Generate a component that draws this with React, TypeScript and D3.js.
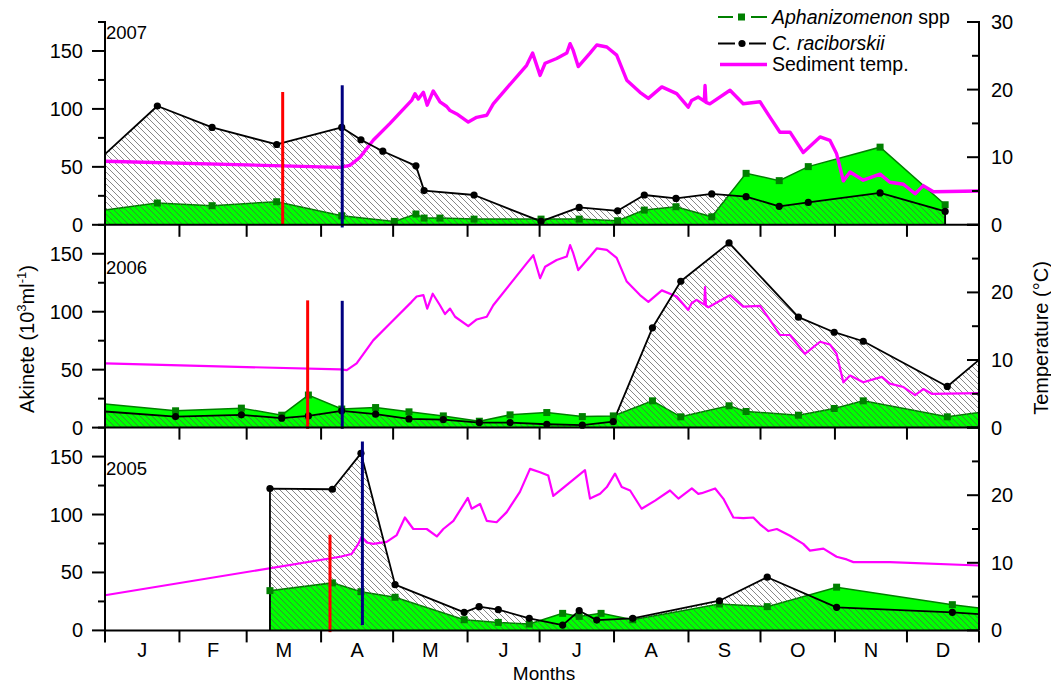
import React from 'react';
import * as d3 from 'd3';

// ---------- DATA ----------
const years = ['2007', '2006', '2005'];
const monthLabels = ['J', 'F', 'M', 'A', 'M', 'J', 'J', 'A', 'S', 'O', 'N', 'D'];
const monthBounds = [0, 31, 59, 90, 120, 151, 181, 212, 243, 273, 304, 334, 364];
const leftTicks = [0, 50, 100, 150];
const leftMinor = [25, 75, 125, 175];
const rightTicks = [0, 10, 20, 30];
const rightMinor = [5, 15, 25];

// [day of year, akinetes 10^3/ml]
const crac2007 = [[0, 61], [21.8, 102.5], [44.6, 84], [71.5, 69.3], [98.6, 84], [106.6, 73.4], [115.7, 63.5], [129.5, 50.9], [132.9, 29.5], [153.7, 25.7], [181.6, 2.9], [197.5, 15], [213.5, 12.1], [224.6, 25.7], [237.8, 22.8], [252.7, 26.6], [267, 24.3], [280.8, 15.9], [292.9, 19.3], [322.8, 27.5], [349.9, 11.5], [349.9, 0]];
const aph2007 = [[0, 12.7], [21.8, 18.8], [44.6, 16.5], [71.5, 19.9], [98.6, 7.8], [120.5, 2.9], [129.5, 9.3], [132.9, 5.8], [139.5, 5.8], [153.7, 4.9], [181.6, 4.9], [197.5, 4.9], [213.5, 3.5], [224.6, 12.7], [237.8, 15.6], [252.7, 6.9], [267, 44.4], [280.8, 38.1], [292.9, 50.2], [322.8, 67], [349.9, 17.3], [349.9, 0]];

const crac2006 = [[0, 13.9], [29.4, 9.5], [56.8, 11], [73.6, 8.1], [84.7, 10.1], [98.6, 14.5], [112.7, 11.6], [126.6, 7.5], [140.9, 6.9], [155.9, 4.3], [168.7, 4.3], [184, 2.9], [198.8, 2.1], [211.7, 5.2], [228, 86.1], [239.8, 126.3], [259.9, 159.4], [288.8, 95.3], [303.7, 82.3], [315.8, 74.5], [350.8, 35.5], [364, 58.4]];
const aph2006 = [[0, 20.3], [29.4, 14.5], [56.8, 16.8], [73.6, 10.7], [84.7, 28.1], [98.6, 16], [112.7, 17.3], [126.6, 13.6], [140.9, 10.1], [155.9, 5.5], [168.7, 11], [184, 13], [198.8, 9.5], [211.7, 10.1], [228, 23.1], [239.8, 9.3], [259.9, 18.8], [267, 13.9], [288.8, 10.7], [303.7, 16.5], [315.8, 23.1], [350.8, 9.3], [364, 13]];

const crac2005 = [[68.7, 0], [68.7, 122.4], [94.7, 121.8], [106.6, 152.8], [120.8, 39.5], [149.6, 15.6], [155.8, 20.5], [163.8, 17.9], [176.7, 10.4], [190.6, 4.6], [197.5, 17], [204.8, 8.9], [219.8, 10.4], [255.9, 25.6], [275.8, 45.9], [304.7, 19.9], [352.9, 15.6], [364, 14.1]];
const aph2005 = [[68.7, 0], [68.7, 34.3], [94.7, 41], [106.6, 33.4], [120.8, 28.6], [149.6, 9.2], [163.8, 6.9], [176.7, 5.5], [190.6, 14.7], [197.5, 12.1], [206.6, 14.7], [219.8, 9.2], [255.9, 22.8], [275.8, 20.5], [304.7, 37.3], [352.9, 22.2], [364, 19.3]];

// [day of year, sediment temperature °C]
const temp2007 = [[0, 9.4], [97.9, 8.5], [102, 8.8], [106.2, 10], [111.7, 12.5], [118.7, 15], [127.7, 18.4], [129.1, 19.4], [130.5, 18.6], [132.6, 19.6], [134.2, 17.7], [136.7, 19.8], [139.5, 18.2], [142.3, 17.5], [143.7, 16.9], [146.5, 16.4], [151.3, 15.2], [154.8, 15.9], [159, 16.2], [161.7, 17.9], [175.6, 23.6], [178.1, 25.4], [181.2, 22.1], [183.3, 23.9], [188.1, 24.6], [192.3, 25.4], [193.7, 26.8], [195, 25.8], [197.1, 23.4], [202, 25.4], [204.8, 26.6], [209, 26.3], [213.1, 25.1], [217.3, 21.4], [222.8, 19.6], [226.3, 18.7], [231.9, 20.4], [238.1, 19.4], [242.9, 17.4], [244.3, 18.4], [247.1, 18.9], [249.6, 18.3], [249.9, 20.6], [250.3, 18.1], [251.9, 17.9], [260.3, 19.9], [265.8, 17.9], [272.8, 18.2], [277, 15.9], [281.1, 13.7], [285.3, 13.7], [290.8, 10.7], [297.8, 13], [301.9, 12.5], [304.7, 10.5], [307.5, 6.5], [310.3, 7.8], [315.8, 6.6], [322.8, 7.5], [326.9, 6.3], [332.5, 6], [337.4, 4.6], [340.8, 5.8], [345, 4.9], [364, 5]];
const temp2006 = [[0, 9.5], [97.9, 8.6], [100.7, 8.5], [104.8, 9.5], [111.7, 12.9], [118.7, 15.4], [127.7, 18.6], [129.8, 19.4], [132.6, 19.6], [134.2, 17.6], [136.5, 19.8], [139.5, 18.1], [141.6, 16.8], [143.7, 17.6], [145.8, 16.4], [151.3, 15], [154.8, 16], [159, 16.4], [161.7, 18.1], [175.6, 24.3], [178.4, 25.5], [181.2, 22.1], [183.3, 23.8], [188.1, 24.8], [192.3, 25.3], [193.7, 27], [195, 25.8], [197.1, 23.3], [202, 25.3], [204.8, 26.5], [209, 26.3], [213.1, 25.1], [217.3, 21.6], [222.8, 19.6], [226.3, 18.6], [231.9, 20.3], [238.1, 19.4], [242.9, 17.4], [244.3, 18.4], [246.4, 18.9], [249.6, 18.2], [249.9, 20.8], [250.3, 18], [251.3, 17.8], [260.3, 19.6], [265.8, 17.9], [272.8, 18], [277, 15.9], [281.1, 13.7], [285.3, 13.7], [291.5, 10.9], [297.8, 12.7], [301.9, 12.3], [304.7, 10.9], [307.5, 6.7], [310.3, 7.7], [315.8, 6.7], [323.5, 7.5], [326.9, 6.5], [332.5, 6], [337.4, 4.8], [340.8, 5.7], [344.3, 5], [364, 5.1]];
const temp2005 = [[0, 5.2], [97.9, 10.9], [102.7, 11.3], [105.5, 12.8], [106.9, 13.9], [109, 13], [111.7, 12.8], [117.3, 13.1], [121.5, 14.1], [124.9, 16.7], [128.4, 15], [134, 15], [138.2, 13.9], [140.9, 15], [145.1, 16.2], [151.1, 19.6], [152.7, 18], [156.2, 18.7], [159, 16.2], [163.1, 16], [167.3, 17.5], [172.8, 20.5], [177, 23.9], [181.2, 23.4], [184.6, 22.9], [186.7, 19.9], [190.2, 20.9], [199.9, 23.7], [202, 19.5], [206.2, 20.2], [209, 21.2], [212.4, 23.2], [215.2, 21.2], [218.7, 20.7], [223.5, 18], [229.1, 19.2], [235.3, 20.7], [238.8, 19.5], [244.4, 21], [247.1, 20.2], [248.5, 20.3], [254.1, 21], [257.5, 19.5], [261.7, 16.7], [265.8, 16.6], [270, 16.7], [272.8, 15.7], [276.3, 14.7], [279.8, 15], [285.3, 14], [290.8, 12.8], [293.6, 11.8], [299.2, 12.1], [304.7, 10.9], [308.9, 10.5], [311.7, 10.1], [326.9, 10.1], [364, 9.6]];

// [day, top value, bottom value] for 2007, 2006, 2005
const redLines = [[74, 114.6, 0], [84.4, 109.8, -1.1], [93.7, 82.6, -1.5]];
const navyLines = [[98.8, 120.4, -2.3], [98.8, 109.4, -1], [107.2, 163, 4.6]];

// ---------- LAYOUT ----------
const FONT = '"Liberation Sans", Arial, Helvetica, sans-serif';
const X0 = 105, X1 = 979;
const TOP = 22, PH = 202.8;
const yearLabelDy = [17.3, 49.4, 47.7];
const tempWidths = [3.4, 2.2, 2.2];

const series = [
  { crac: crac2007, aph: aph2007, temp: temp2007 },
  { crac: crac2006, aph: aph2006, temp: temp2006 },
  { crac: crac2005, aph: aph2005, temp: temp2005 },
];

export default function App() {
  const x = d3.scaleLinear().domain([0, 364]).range([X0, X1]);
  const bottom = TOP + 3 * PH;

  const panels = years.map((yr, i) => {
    const top = TOP + i * PH;
    const base = top + PH;
    const yL = d3.scaleLinear().domain([0, 175]).range([base, top]);
    const yR = d3.scaleLinear().domain([0, 30]).range([base, top]);
    const s = series[i];
    const area = d3.area<number[]>().x(d => x(d[0])).y0(yL(0)).y1(d => yL(d[1]));
    const line = d3.line<number[]>().x(d => x(d[0])).y(d => yL(d[1]));
    const tline = d3.line<number[]>().x(d => x(d[0])).y(d => yR(d[1]));
    const mk = (d: number[]) => d[0] > 0 && d[0] < 364 && d[1] > 0;
    const red = redLines[i];
    const navy = navyLines[i];
    return (
      <g key={yr}>
        <path d={area(s.aph) || ''} fill="#00FF00" />
        <path d={line(s.aph) || ''} fill="none" stroke="#008000" strokeWidth={1.5} />
        <path d={area(s.crac) || ''} fill="url(#hatch)" />
        <path d={tline(s.temp) || ''} fill="none" stroke="#FF00FF" strokeWidth={tempWidths[i]} strokeLinejoin="round" />
        <path d={line(s.crac) || ''} fill="none" stroke="#000" strokeWidth={1.8} strokeLinejoin="round" />
        {s.aph.filter(mk).map((d, k) => (
          <rect key={'a' + k} x={x(d[0]) - 3.5} y={yL(d[1]) - 3.5} width={7} height={7} fill="#008000" />
        ))}
        {s.crac.filter(mk).map((d, k) => (
          <circle key={'c' + k} cx={x(d[0])} cy={yL(d[1])} r={3.6} fill="#000" />
        ))}
        <line x1={x(red[0])} x2={x(red[0])} y1={yL(red[1])} y2={yL(red[2])} stroke="#FF0000" strokeWidth={3} />
        <line x1={x(navy[0])} x2={x(navy[0])} y1={yL(navy[1])} y2={yL(navy[2])} stroke="#000080" strokeWidth={3} />
        <line x1={X0} x2={X1} y1={base} y2={base} stroke="#000" strokeWidth={2} />
        {monthBounds.map((m, k) => (
          <line key={'mt' + k} x1={x(m)} x2={x(m)} y1={base} y2={base + 12} stroke="#000" strokeWidth={2} />
        ))}
        {leftTicks.map(v => (
          <g key={'l' + v}>
            <line x1={X0 - 13} x2={X0} y1={yL(v)} y2={yL(v)} stroke="#000" strokeWidth={2} />
            <text x={83} y={yL(v)} dy="0.35em" textAnchor="end" fontSize={20} fontFamily={FONT}>{v}</text>
          </g>
        ))}
        {leftMinor.map(v => (
          <line key={'lm' + v} x1={X0 - 7} x2={X0} y1={yL(v)} y2={yL(v)} stroke="#000" strokeWidth={2} />
        ))}
        {rightTicks.map(v => (
          <g key={'r' + v}>
            <line x1={X1 - 12} x2={X1} y1={yR(v)} y2={yR(v)} stroke="#000" strokeWidth={2} />
            {(i === 0 || v < 30) && (
              <text x={991} y={yR(v)} dy="0.35em" textAnchor="start" fontSize={20} fontFamily={FONT}>{v}</text>
            )}
          </g>
        ))}
        {rightMinor.map(v => (
          <line key={'rm' + v} x1={X1 - 7} x2={X1} y1={yR(v)} y2={yR(v)} stroke="#000" strokeWidth={2} />
        ))}
        <text x={106} y={top + yearLabelDy[i]} fontSize={18.5} fontFamily={FONT}>{yr}</text>
      </g>
    );
  });

  return (
    <svg width={1051} height={686} style={{ position: 'absolute', left: 0, top: 0, background: '#fff' }}>
      <defs>
        <pattern id="hatch" patternUnits="userSpaceOnUse" width={6} height={6}>
          <path d="M-1,-1 L7,7 M5,-1 L7,1 M-1,5 L1,7" stroke="#555" strokeWidth={0.7} fill="none" />
        </pattern>
      </defs>
      <rect x={0} y={0} width={1051} height={686} fill="#fff" />
      {panels}
      <line x1={X0} x2={X0} y1={TOP - 1} y2={bottom} stroke="#000" strokeWidth={2} />
      <line x1={X1} x2={X1} y1={TOP - 1} y2={bottom} stroke="#000" strokeWidth={2} />
      {monthLabels.map((m, k) => (
        <text key={'ml' + k} x={x((monthBounds[k] + monthBounds[k + 1]) / 2)} y={656.5} textAnchor="middle" fontSize={20} fontFamily={FONT}>{m}</text>
      ))}
      <text x={544} y={680} textAnchor="middle" fontSize={19} fontFamily={FONT}>Months</text>
      <text transform="translate(26.5,339) rotate(-90)" dy="0.35em" textAnchor="middle" fontSize={20} fontFamily={FONT}>
        Akinete (10<tspan dy={-8} fontSize={13}>3</tspan><tspan dy={8}>ml</tspan><tspan dy={-8} fontSize={13}>-1</tspan><tspan dy={8}>)</tspan>
      </text>
      <text transform="translate(1041,338) rotate(-90)" dy="0.35em" textAnchor="middle" fontSize={20} fontFamily={FONT}>Temperature (°C)</text>
      <g fontFamily={FONT} fontSize={19.5}>
        <line x1={718} x2={733} y1={17} y2={17} stroke="#008000" strokeWidth={2} />
        <line x1={751} x2={767} y1={17} y2={17} stroke="#008000" strokeWidth={2} />
        <rect x={738} y={13.5} width={7} height={7} fill="#008000" />
        <text x={772} y={17} dy="0.35em"><tspan fontStyle="italic">Aphanizomenon</tspan> spp</text>
        <line x1={718} x2={735} y1={43.5} y2={43.5} stroke="#000" strokeWidth={2} />
        <line x1={749} x2={766} y1={43.5} y2={43.5} stroke="#000" strokeWidth={2} />
        <circle cx={742} cy={43.5} r={3.6} fill="#000" />
        <text x={772} y={43.5} dy="0.35em" fontStyle="italic">C. raciborskii</text>
        <line x1={720} x2={767} y1={64.5} y2={64.5} stroke="#FF00FF" strokeWidth={3.5} />
        <text x={772} y={64.5} dy="0.35em">Sediment temp.</text>
      </g>
    </svg>
  );
}
